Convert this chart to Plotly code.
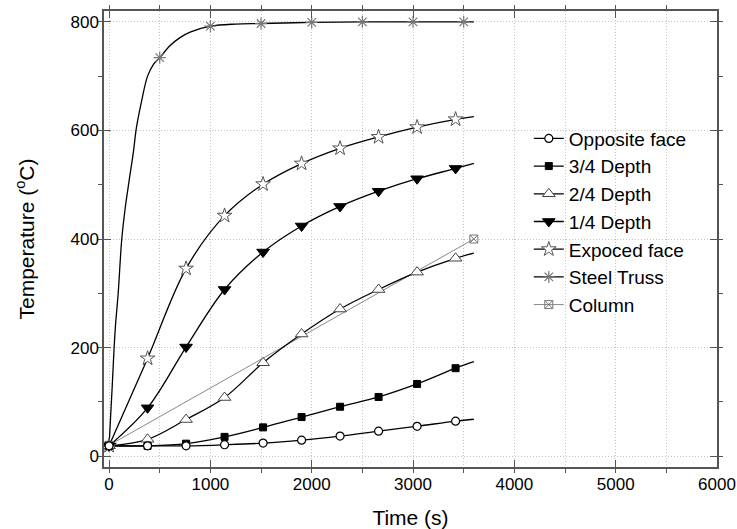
import plotly.graph_objects as go

# ---- data ----
TIME = [0, 380, 760, 1140, 1520, 1900, 2280, 2660, 3040, 3420, 3600]
OPPOSITE = [19, 19, 19, 21, 24, 29.5, 37, 46, 55, 64.5, 68]
DEPTH_34 = [19, 19, 23, 35.5, 53, 72, 91, 109, 133, 162, 174]
DEPTH_24 = [19, 31, 67.5, 108, 172, 225, 271, 307, 339, 364.5, 374]
DEPTH_14 = [19, 89, 201, 307, 376, 424, 460, 488, 511, 530, 539.5]
EXPOSED = [19, 180, 345.5, 443, 501, 539, 567, 588, 606, 620.5, 625.5]

STEEL_T = [0, 30, 60, 90, 125, 160, 200, 240, 270, 320, 380, 440, 500, 600, 700,
           800, 1000, 1250, 1500, 2000, 2500, 3000, 3500, 3600]
STEEL_V = [19, 125, 232, 300, 399, 458, 510, 560, 605, 653, 700, 722, 734, 756, 771,
           781, 792, 796, 797, 799, 800, 800, 800, 800]
STEEL_MARK_T = [0, 500, 1000, 1500, 2000, 2500, 3000, 3500]
STEEL_MARK_V = [19, 734, 792, 797, 799, 800, 800, 800]

COLUMN_T = [0, 3600]
COLUMN_V = [20, 400]

NAMES = ["Opposite face", "3/4 Depth", "2/4 Depth", "1/4 Depth",
         "Expoced face", "Steel Truss", "Column"]

FONT = "Arial, Liberation Sans, sans-serif"
GRID = "#c4c4c4"

styles = {
    "Opposite face": dict(symbol="circle", size=8, color="white", lc="black", lw=1.2, line="black", width=1.3),
    "3/4 Depth": dict(symbol="square", size=7, color="black", lc="black", lw=1, line="black", width=1.3),
    "2/4 Depth": dict(symbol="triangle-up", size=11, color="white", lc="#444", lw=1, line="black", width=1.3),
    "1/4 Depth": dict(symbol="triangle-down", size=11, color="black", lc="black", lw=1, line="black", width=1.3),
    "Expoced face": dict(symbol="star", size=11, color="white", lc="#555", lw=1, line="black", width=1.3),
    "Steel Truss": dict(symbol="asterisk-open", size=10, color="#777", lc="#777", lw=1.2, line="black", width=1.3),
    "Column": dict(symbol="square-x-open", size=8, color="#777", lc="#777", lw=1, line="#888", width=1),
}

series = {
    "Opposite face": (TIME, OPPOSITE, TIME[:-1], OPPOSITE[:-1]),
    "3/4 Depth": (TIME, DEPTH_34, TIME[:-1], DEPTH_34[:-1]),
    "2/4 Depth": (TIME, DEPTH_24, TIME[:-1], DEPTH_24[:-1]),
    "1/4 Depth": (TIME, DEPTH_14, TIME[:-1], DEPTH_14[:-1]),
    "Expoced face": (TIME, EXPOSED, TIME[:-1], EXPOSED[:-1]),
    "Steel Truss": (STEEL_T, STEEL_V, STEEL_MARK_T, STEEL_MARK_V),
    "Column": (COLUMN_T, COLUMN_V, COLUMN_T, COLUMN_V),
}

fig = go.Figure()

draw_order = ["Column", "Steel Truss", "Expoced face", "1/4 Depth", "2/4 Depth", "3/4 Depth", "Opposite face"]
for name in draw_order:
    xs, ys, mx, my = series[name]
    st = styles[name]
    fig.add_trace(go.Scatter(
        x=xs, y=ys, mode="lines",
        line=dict(color=st["line"], width=st["width"],
                  shape="linear" if name == "Column" else "spline", smoothing=1.0),
        showlegend=False, hoverinfo="skip"))
for name in draw_order:
    xs, ys, mx, my = series[name]
    st = styles[name]
    fig.add_trace(go.Scatter(
        x=mx, y=my, mode="markers",
        marker=dict(symbol=st["symbol"], size=st["size"], color=st["color"],
                    line=dict(color=st["lc"], width=st["lw"])),
        showlegend=False))

# legend entries
for name in NAMES:
    st = styles[name]
    fig.add_trace(go.Scatter(
        x=[None], y=[None], mode="lines+markers", name=name,
        line=dict(color=st["line"], width=st["width"]),
        marker=dict(symbol=st["symbol"], size=st["size"], color=st["color"],
                    line=dict(color=st["lc"], width=st["lw"]))))

axis_common = dict(
    showline=True, linecolor="#555", linewidth=1.5, mirror="allticks",
    ticks="inside", ticklen=7, tickcolor="#555", tickwidth=1.2,
    zeroline=False, tickfont=dict(family=FONT, size=17, color="black"),
    gridcolor=GRID, griddash="1px,2px", gridwidth=1, automargin=False,
)

fig.update_layout(
    width=737, height=529,
    margin=dict(l=104, r=20, t=11, b=62),
    paper_bgcolor="white", plot_bgcolor="white",
    font=dict(family=FONT, size=17, color="black"),
    xaxis=dict(range=[-50, 6000], tick0=0, dtick=1000, ticklabelstandoff=1,
               minor=dict(dtick=500, ticklen=4, showgrid=True, gridcolor=GRID,
                          griddash="1px,2px", tickcolor="#555"),
               title=dict(text="Time (s)", font=dict(family=FONT, size=21), standoff=21),
               **axis_common),
    yaxis=dict(range=[-20, 820], tick0=0, dtick=200,
               minor=dict(dtick=100, ticklen=4, showgrid=False, tickcolor="#555"),
               title=dict(text="Temperature (<sup>o</sup>C)", font=dict(family=FONT, size=21), standoff=30),
               **axis_common),
    legend=dict(x=0.693, y=0.762, xanchor="left", yanchor="top",
                font=dict(family=FONT, size=19, color="black"), tracegroupgap=0,
                bgcolor="rgba(0,0,0,0)", borderwidth=0, itemwidth=30),
    showlegend=True,
)

fig.write_html("out.html")
